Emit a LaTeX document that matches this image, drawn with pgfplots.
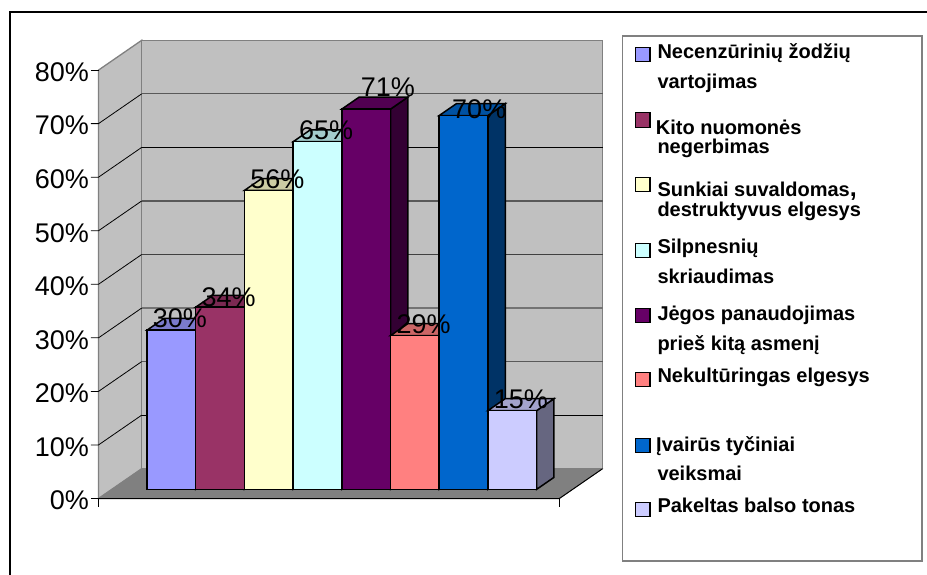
\documentclass[border=0pt]{standalone}
\usepackage{fontspec}
\setmainfont{Liberation Sans}
\usepackage{pgfplots}
\usepackage{pgfplotstable}
\pgfplotsset{compat=1.18}

\definecolor{c1}{HTML}{9999FF}
\definecolor{c2}{HTML}{993366}
\definecolor{c3}{HTML}{FFFFCC}
\definecolor{c4}{HTML}{CCFFFF}
\definecolor{c5}{HTML}{660066}
\definecolor{c6}{HTML}{FF8080}
\definecolor{c7}{HTML}{0066CC}
\definecolor{c8}{HTML}{CCCCFF}
\definecolor{wall}{HTML}{C0C0C0}
\definecolor{floorc}{HTML}{808080}

% one cuboid: x from, x to, height, colour
\newcommand{\cuboid}[4]{%
  \addplot3[fill=#4!50!black,draw=black,line width=1.5pt] coordinates {(#2,0.309,0) (#2,0.709,0) (#2,0.709,#3) (#2,0.309,#3)} -- cycle;
  \addplot3[fill=#4!80!black,draw=black,line width=1.5pt] coordinates {(#1,0.309,#3) (#2,0.309,#3) (#2,0.709,#3) (#1,0.709,#3)} -- cycle;
  \addplot3[fill=#4,draw=black,line width=1.5pt] coordinates {(#1,0.309,0) (#2,0.309,0) (#2,0.309,#3) (#1,0.309,#3)} -- cycle;
}
% gridline at a level: tick and side wall in thin black, back wall as given
\newcommand{\gridat}[2]{%
  \addplot3[black,line width=0.8pt] coordinates {(-0.154,0,#1) (0,0,#1) (0,1,#1)};
  \addplot3[#2] coordinates {(0,1,#1) (9.46,1,#1)};
}
\newcommand{\legbox}[3]{%
  \draw[black,line width=1.5pt,fill=#3] (635.7pt,-#1pt) rectangle (650pt,-#2pt);
}
\newcommand{\legtext}[3]{%
  \node[anchor=base west,inner sep=0pt,font=\fontsize{20}{22}\selectfont\bfseries] at (#1pt,-#2pt) {#3};
}

\pgfplotstableread{
x    y     z     sx sy
1.22 0.509 29.7  0  -3
2.22 0.509 34.0  0  -5.4
3.22 0.509 55.8  0  -3.6
4.22 0.509 64.9  0  -3.6
5.22 0.509 71.0  13 6.6
6.22 0.509 28.7  0  -3.6
7.22 0.509 69.8  7  -8.6
8.22 0.509 14.7  0  -3.6
}\labeltable

\begin{document}
\begin{tikzpicture}
\path[use as bounding box] (0pt,0pt) rectangle (927pt,-575pt);
\draw[black,line width=2pt] (10pt,-575pt) -- (10pt,-12pt) -- (927pt,-12pt);
\begin{axis}[
  at={(98.5pt,-498.5pt)},
  anchor=origin,
  x={(48.72pt,0pt)},
  y={(43.2pt,29.8pt)},
  z={(0pt,5.355pt)},
  xmin=0,xmax=9.46,
  ymin=0,ymax=1,
  zmin=0,zmax=80,
  xtick=\empty,ytick=\empty,
  ztick={0,10,...,80},
  zticklabel={\pgfmathprintnumber{\tick}\%},
  ztick pos=left,
  major tick length=0pt,
  axis line style={draw=none},
  clip=false,
  /pgf/number format/assume math mode=true,
  z tick label style={font=\fontsize{27}{30}\selectfont,inner sep=0pt,anchor=east,xshift=-9.5pt,yshift=-2pt},
  no markers,
]
% walls and floor
\addplot3[fill=wall,draw=floorc,line width=1.3pt] coordinates {(0,0,0) (0,1,0) (0,1,80) (0,0,80)} -- cycle;
\addplot3[fill=wall,draw=floorc,line width=1.3pt] coordinates {(0,1,0) (9.46,1,0) (9.46,1,80) (0,1,80)} -- cycle;
\addplot3[fill=floorc,draw=floorc,line width=0.5pt] coordinates {(0,0,0) (9.46,0,0) (9.46,1,0) (0,1,0)} -- cycle;
\addplot3[black,line width=1pt] coordinates {(0,0,0) (9.46,0,0) (9.46,1,0)};
\addplot3[black,line width=1pt] coordinates {(0,0,0) (0,0,-1.5)};
\addplot3[black,line width=1pt] coordinates {(9.46,0,0) (9.46,0,-1.5)};
\addplot3[black,line width=0.8pt] coordinates {(-0.154,0,0) (0,0,0)};
\addplot3[black,line width=0.8pt] coordinates {(-0.154,0,80) (0,0,80)};
% gridlines
\gridat{10}{black,line width=0.7pt}
\gridat{20}{black!65,line width=1.3pt}
\gridat{30}{black!55,line width=1.3pt}
\gridat{40}{black!75,line width=1.2pt}
\gridat{50}{black!65,line width=1.3pt}
\gridat{60}{black,line width=0.7pt}
\gridat{70}{black!65,line width=1.3pt}
% bars
\cuboid{0.72}{1.72}{29.7}{c1}
\cuboid{1.72}{2.72}{34.0}{c2}
\cuboid{2.72}{3.72}{55.8}{c3}
\cuboid{3.72}{4.72}{64.9}{c4}
\cuboid{4.72}{5.72}{71.0}{c5}
\cuboid{5.72}{6.72}{28.7}{c6}
\cuboid{6.72}{7.72}{69.8}{c7}
\cuboid{7.72}{8.72}{14.7}{c8}
% value labels
\addplot3[
  draw=none,
  point meta=z,
  visualization depends on={\thisrow{sx} \as \sx},
  visualization depends on={\thisrow{sy} \as \sy},
  nodes near coords={\pgfmathprintnumber[fixed,precision=0]{\pgfplotspointmeta}\%},
  nodes near coords align={anchor=base},
  every node near coord/.append style={anchor=base,xshift=\sx pt,yshift=\sy pt,inner sep=0pt,
    font=\fontsize{27}{30}\selectfont,/pgf/number format/assume math mode=true},
] table[x=x,y=y,z=z] {\labeltable};
\end{axis}
% legend
\draw[floorc,line width=1.3pt] (622.6pt,-36pt) rectangle (922pt,-561pt);
\legbox{47.7}{61.7}{c1}
\legbox{112.7}{127.3}{c2}
\legbox{177.3}{191.3}{c3}
\legbox{243.3}{257.3}{c4}
\legbox{308.3}{322.7}{c5}
\legbox{372.7}{386.7}{c6}
\legbox{438.3}{452.7}{c7}
\legbox{502.3}{516.7}{c8}
\legtext{657.3}{58.3}{Necenzūrinių žodžių}
\legtext{657.3}{88.3}{vartojimas}
\legtext{655.7}{134.3}{Kito nuomonės}
\legtext{657.3}{153.3}{negerbimas}
\legtext{657.3}{196.7}{Sunkiai suvaldomas{\fontsize{25}{22}\selectfont,}}
\legtext{657.3}{216.7}{destruktyvus elgesys}
\legtext{657.3}{253.3}{Silpnesnių}
\legtext{657.3}{283.3}{skriaudimas}
\legtext{657.3}{320}{Jėgos panaudojimas}
\legtext{657.3}{350}{prieš kitą asmenį}
\legtext{657.3}{382.7}{Nekultūringas elgesys}
\legtext{656}{451}{Įvairūs tyčiniai}
\legtext{657.3}{480}{veiksmai}
\legtext{657.3}{512.3}{Pakeltas balso tonas}
\end{tikzpicture}
\end{document}
